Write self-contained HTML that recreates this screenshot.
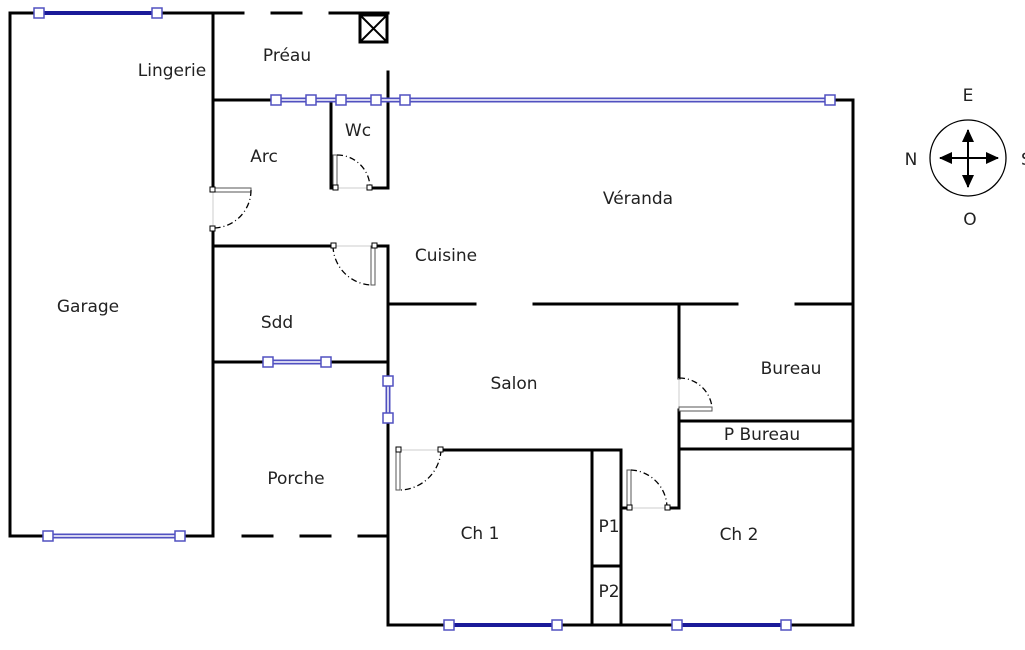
<!DOCTYPE html>
<html><head><meta charset="utf-8"><style>
html,body{margin:0;padding:0;background:#fff;width:1025px;height:650px;overflow:hidden}
svg text{font-family:"DejaVu Sans","Liberation Sans",sans-serif;font-size:17px;fill:#222}
</style></head><body>
<svg width="1025" height="650" viewBox="0 0 1025 650" xmlns="http://www.w3.org/2000/svg">
<defs>
<marker id="ah" markerWidth="13" markerHeight="12" refX="12" refY="6" orient="auto" markerUnits="userSpaceOnUse"><path d="M0,0 L13,6 L0,12z" fill="#000"/></marker>
</defs>
<g stroke="#000" stroke-width="3" fill="none" stroke-linecap="square">
<path d="M10,536 V13 H243"/>
<path d="M272,13 H301 M330,13 H388"/>
<path d="M213,13 V190 M213,228 V536 H10"/>
<path d="M213,100 H275 M830,100 H853 V625 H388 V450"/>
<path d="M331,100 V188 H335 M370,188 H388 V72"/>
<path d="M213,246 H333 M375,246 H388 V375 M388,420 V450"/>
<path d="M213,362 H388"/>
<path d="M243,536 H272 M301,536 H330 M359,536 H388"/>
<path d="M388,304 H475 M534,304 H737 M796,304 H853"/>
<path d="M679,304 V378 M679,410 V508 H667"/>
<path d="M679,421 H853 M679,449 H853"/>
<path d="M441,450 H621 V625 M592,450 V625 M592,566 H621 M621,508 H628"/>
</g>
<rect x="360" y="15" width="27" height="27" fill="#fff" stroke="#000" stroke-width="3"/>
<path d="M360,15 L387,42 M387,15 L360,42" stroke="#000" stroke-width="2"/>
<g stroke="#ccc" stroke-width="1">
<path d="M213,190 V228 M335,188 H370 M333,246 H375 M398,450 H441 M628,508 H667 M679,378 V410"/>
</g>
<g fill="#fff" stroke="#555" stroke-width="1">
<rect x="213" y="188" width="38" height="4"/>
<rect x="333" y="155" width="4" height="33"/>
<rect x="371" y="246" width="4" height="39"/>
<rect x="396" y="450" width="4" height="40"/>
<rect x="627" y="470" width="4" height="38"/>
<rect x="679" y="407" width="33" height="4"/>
</g>
<g fill="none" stroke="#000" stroke-width="1.3" stroke-dasharray="6,3,1,3">
<path d="M251,190 A38,38 0 0 1 213,228"/>
<path d="M337,155 A33,33 0 0 1 370,188"/>
<path d="M333,246 A40,40 0 0 0 371,285"/>
<path d="M441,450 A42,42 0 0 1 400,490"/>
<path d="M631,470 A38,38 0 0 1 667,508"/>
<path d="M679,378 A33,33 0 0 1 712,407"/>
</g>
<g fill="#fff" stroke="#000" stroke-width="1">
<rect x="210" y="187" width="5" height="5"/><rect x="210" y="226" width="5" height="5"/>
<rect x="331" y="243" width="5" height="5"/><rect x="372" y="243" width="5" height="5"/>
<rect x="396" y="447" width="5" height="5"/><rect x="438" y="447" width="5" height="5"/>
<rect x="627" y="505" width="5" height="5"/><rect x="665" y="505" width="5" height="5"/>
<rect x="333" y="185" width="5" height="5"/><rect x="367" y="185" width="5" height="5"/>
</g>
<g stroke="#5050c0" stroke-width="5" fill="none">
<path d="M276,100 H830"/><path d="M48,536 H180"/><path d="M268,362 H326"/><path d="M388,381 V418"/>
</g>
<g stroke="#fff" stroke-width="1.5" fill="none">
<path d="M276,100 H830"/><path d="M48,536 H180"/><path d="M268,362 H326"/><path d="M388,381 V418"/>
</g>
<g stroke="#1a1a99" stroke-width="4"><path d="M39,13 H157"/><path d="M449,625 H557"/><path d="M677,625 H786"/></g>
<g fill="#fff" stroke="#5050c0" stroke-width="1.5">
<rect x="34" y="8" width="10" height="10"/><rect x="152" y="8" width="10" height="10"/>
<rect x="271" y="95" width="10" height="10"/><rect x="306" y="95" width="10" height="10"/>
<rect x="336" y="95" width="10" height="10"/><rect x="371" y="95" width="10" height="10"/>
<rect x="400" y="95" width="10" height="10"/><rect x="825" y="95" width="10" height="10"/>
<rect x="43" y="531" width="10" height="10"/><rect x="175" y="531" width="10" height="10"/>
<rect x="263" y="357" width="10" height="10"/><rect x="321" y="357" width="10" height="10"/>
<rect x="383" y="376" width="10" height="10"/><rect x="383" y="413" width="10" height="10"/>
<rect x="444" y="620" width="10" height="10"/><rect x="552" y="620" width="10" height="10"/>
<rect x="672" y="620" width="10" height="10"/><rect x="781" y="620" width="10" height="10"/>
</g>
<circle cx="968" cy="158" r="38" fill="none" stroke="#000" stroke-width="1.3"/>
<g stroke="#000" stroke-width="2" marker-end="url(#ah)">
<line x1="968" y1="158" x2="968" y2="130"/><line x1="968" y1="158" x2="968" y2="187"/>
<line x1="968" y1="158" x2="940" y2="158"/><line x1="968" y1="158" x2="998" y2="158"/>
</g>
<text x="968" y="101" text-anchor="middle">E</text>
<text x="970" y="225" text-anchor="middle">O</text>
<text x="911" y="165" text-anchor="middle">N</text>
<text x="1021" y="165">S</text>
<g text-anchor="middle">
<text x="172" y="76">Lingerie</text>
<text x="287" y="61">Préau</text>
<text x="358" y="136">Wc</text>
<text x="264" y="162">Arc</text>
<text x="638" y="204">Véranda</text>
<text x="446" y="261">Cuisine</text>
<text x="88" y="312">Garage</text>
<text x="277" y="328">Sdd</text>
<text x="514" y="389">Salon</text>
<text x="791" y="374">Bureau</text>
<text x="762" y="440">P Bureau</text>
<text x="296" y="484">Porche</text>
<text x="480" y="539">Ch 1</text>
<text x="739" y="540">Ch 2</text>
<text x="609" y="532">P1</text>
<text x="609" y="597">P2</text>
</g>
</svg>
</body></html>
